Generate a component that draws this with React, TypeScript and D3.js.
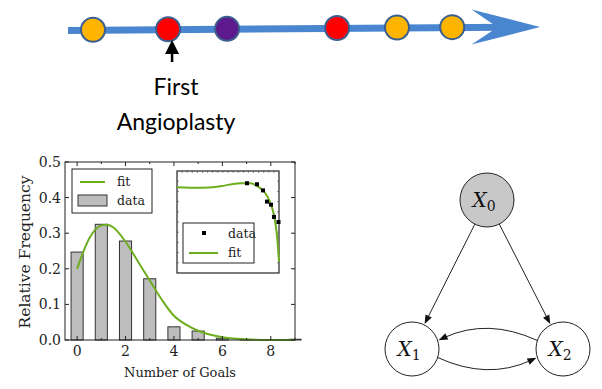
import * as d3 from 'd3'

// timeline events (time units along the arrow) and their colours
const eventTimes = [0.53, 2.12, 3.37, 5.7, 6.97, 8.14]
const eventColors = ['#FFB400', '#FF0000', '#5C1A8C', '#FF0000', '#FFB400', '#FFB400']
const markedEvent = 1
const markLabel = ['First', 'Angioplasty']

// histogram
const goals = [0, 1, 2, 3, 4, 5, 6, 7, 8, 9]
const freq = [0.247, 0.325, 0.278, 0.172, 0.037, 0.025, 0.005, 0.001, 0.001, 0.002]
const fitX = [0, 0.5, 1, 1.25, 1.5, 2, 2.5, 3, 3.5, 4, 4.5, 5, 6, 7, 8, 9]
const fitY = [0.2, 0.285, 0.322, 0.324, 0.316, 0.276, 0.222, 0.167, 0.113, 0.068, 0.043, 0.026, 0.008, 0.002, 0.0, 0.0]
const yTicks = [0, 0.1, 0.2, 0.3, 0.4, 0.5]
const xTicks = [0, 2, 4, 6, 8]

// inset
const insetDataX = [6.86, 7.84, 8.43, 8.82, 9.22, 9.51, 9.95]
const insetDataY = [0.88, 0.87, 0.81, 0.7, 0.67, 0.55, 0.5]
const insetFitX = [0, 2.25, 4.2, 6.2, 7.2, 7.9, 8.6, 9.1, 9.5, 9.8, 10]
const insetFitY = [0.84, 0.835, 0.85, 0.88, 0.88, 0.85, 0.79, 0.7, 0.57, 0.37, 0.11]

// graph
const nodes = [
  { id: 0, x: 487, y: 200, fill: '#C8C8C8' },
  { id: 1, x: 412, y: 349, fill: '#fff' },
  { id: 2, x: 563, y: 349, fill: '#fff' },
]
const edges = [
  { s: 0, t: 1, bend: 0 },
  { s: 0, t: 2, bend: 0 },
  { s: 2, t: 1, bend: 0.13 },
  { s: 1, t: 2, bend: 0.13 },
]

const GREEN = '#6DAE1E'
const SERIF = '"DejaVu Serif", "Liberation Serif", serif'

function Timeline() {
  const tx = d3.scaleLinear().domain([0, 10]).range([68, 540])
  const ty = d3.scaleLinear().domain([0, 10]).range([30.5, 27])
  const end = 10
  const lineEnd = 9.3
  const ex = tx(eventTimes[markedEvent]) + 4
  return (
    <g>
      <line x1={tx(0)} y1={ty(0)} x2={tx(lineEnd)} y2={ty(lineEnd)} stroke="#4A86D0" strokeWidth={7} />
      <path
        d={`M${tx(end)},${ty(end)} L${tx(8.55)},${ty(8.55) - 18} L${tx(9.1)},${ty(9.1)} L${tx(8.55)},${ty(8.55) + 17} Z`}
        fill="#4A86D0"
      />
      {eventTimes.map((t, i) => (
        <circle key={i} cx={tx(t)} cy={ty(t) - 0.5} r={12} fill={eventColors[i]} stroke="#3B5F8E" strokeWidth={2} />
      ))}
      <line x1={ex} y1={62} x2={ex} y2={50} stroke="#000" strokeWidth={2.5} />
      <path d={`M${ex},${40} L${ex - 7},${54} L${ex + 7},${54} Z`} fill="#000" />
      {markLabel.map((s, i) => (
        <text key={i} x={ex + 4} y={95 + i * 35} textAnchor="middle" fontFamily="Lato, 'Open Sans', sans-serif" fontSize={23} fill="#000">
          {s}
        </text>
      ))}
    </g>
  )
}

function Histogram() {
  const x = d3.scaleLinear().domain([-0.5, 9]).range([65, 295])
  const y = d3.scaleLinear().domain([0, 0.5]).range([340, 162])
  const bw = x(0.5) - x(0)
  const fitLine = d3
    .line<number>()
    .x((_, i) => x(fitX[i]))
    .y(d => y(d))
    .curve(d3.curveMonotoneX)

  const ix = d3.scaleLinear().domain([0, 10]).range([177, 279])
  const iy = d3.scaleLinear().domain([0, 1]).range([273, 171])
  const insetLine = d3
    .line<number>()
    .x((_, i) => ix(insetFitX[i]))
    .y(d => iy(d))
    .curve(d3.curveMonotoneX)

  return (
    <g>
      {goals.map((g, i) => (
        <rect key={g} x={x(g) - bw / 2} y={y(freq[i])} width={bw} height={y(0) - y(freq[i])} fill="#BDBDBD" stroke="#333" strokeWidth={1} />
      ))}
      <path d={fitLine(fitY) ?? ''} fill="none" stroke={GREEN} strokeWidth={2} />
      <rect x={65} y={162} width={230} height={178} fill="none" stroke="#222" strokeWidth={1} />
      {yTicks.map(t => (
        <g key={t}>
          <line x1={65} x2={69} y1={y(t)} y2={y(t)} stroke="#222" />
          <line x1={291} x2={295} y1={y(t)} y2={y(t)} stroke="#222" />
          <text x={61} y={y(t) + 5} textAnchor="end" fontFamily={SERIF} fontSize={14} fill="#222">
            {t.toFixed(1)}
          </text>
        </g>
      ))}
      {d3.range(0, 10).map(t => (
        <g key={t}>
          <line x1={x(t)} x2={x(t)} y1={340} y2={t % 2 === 0 ? 336 : 338} stroke="#222" />
          <line x1={x(t)} x2={x(t)} y1={162} y2={t % 2 === 0 ? 166 : 164} stroke="#222" />
        </g>
      ))}
      {xTicks.map(t => (
        <text key={t} x={x(t)} y={356} textAnchor="middle" fontFamily={SERIF} fontSize={14} fill="#222">
          {t}
        </text>
      ))}
      <text x={180} y={377} textAnchor="middle" fontFamily={SERIF} fontSize={13} fill="#222">
        Number of Goals
      </text>
      <text transform="translate(30,252) rotate(-90)" textAnchor="middle" fontFamily={SERIF} fontSize={15.5} fill="#222">
        Relative Frequency
      </text>

      {/* legend */}
      <rect x={72} y={169} width={80} height={44} fill="#fff" stroke="#222" strokeWidth={1} />
      <line x1={80} x2={105} y1={182} y2={182} stroke={GREEN} strokeWidth={2} />
      <text x={117} y={186} fontFamily={SERIF} fontSize={12.5} fill="#222">fit</text>
      <rect x={78} y={195} width={29} height={11} fill="#BDBDBD" stroke="#333" />
      <text x={117} y={205} fontFamily={SERIF} fontSize={12.5} fill="#222">data</text>

      {/* inset */}
      <rect x={177} y={171} width={102} height={102} fill="#fff" stroke="#222" strokeWidth={1.2} />
      {d3.range(0.5, 10, 0.5).map(t => (
        <line key={t} x1={ix(t)} x2={ix(t)} y1={171} y2={173} stroke="#444" strokeWidth={0.6} />
      ))}
      {d3.range(0.1, 1, 0.1).map(t => (
        <g key={t}>
          <line x1={177} x2={179} y1={iy(t)} y2={iy(t)} stroke="#444" strokeWidth={0.6} />
          <line x1={277} x2={279} y1={iy(t)} y2={iy(t)} stroke="#444" strokeWidth={0.6} />
        </g>
      ))}
      <path d={insetLine(insetFitY) ?? ''} fill="none" stroke={GREEN} strokeWidth={2} />
      {insetDataX.map((d, i) => (
        <rect key={i} x={ix(d) - 2} y={iy(insetDataY[i]) - 2} width={4} height={4} fill="#000" />
      ))}
      <rect x={183} y={223} width={71} height={40} fill="#fff" stroke="#222" strokeWidth={1} />
      <rect x={202} y={231} width={4} height={4} fill="#000" />
      <text x={228} y={238} fontFamily={SERIF} fontSize={12.5} fill="#222">data</text>
      <line x1={189} x2={218} y1={253} y2={253} stroke={GREEN} strokeWidth={2} />
      <text x={228} y={257} fontFamily={SERIF} fontSize={12.5} fill="#222">fit</text>
    </g>
  )
}

function Graph() {
  const r = 27
  const head = (x: number, y: number, ang: number) => {
    const l = 9
    const w = 3.5
    const bx = x - l * Math.cos(ang)
    const by = y - l * Math.sin(ang)
    const px = -Math.sin(ang) * w
    const py = Math.cos(ang) * w
    return `M${x},${y}L${bx + px},${by + py}L${bx - px},${by - py}Z`
  }
  return (
    <g>
      {edges.map((e, i) => {
        const a = nodes[e.s]
        const b = nodes[e.t]
        const dx = b.x - a.x
        const dy = b.y - a.y
        const len = Math.hypot(dx, dy)
        if (e.bend === 0) {
          const ux = dx / len
          const uy = dy / len
          const sx = a.x + ux * r
          const sy = a.y + uy * r
          const tx = b.x - ux * (r + 1)
          const ty = b.y - uy * (r + 1)
          const ang = Math.atan2(uy, ux)
          return (
            <g key={i}>
              <path d={`M${sx},${sy}L${tx - ux * 6},${ty - uy * 6}`} stroke="#222" strokeWidth={1} fill="none" />
              <path d={head(tx, ty, ang)} fill="#111" />
            </g>
          )
        }
        // curved edge: bulge to the right of direction a->b
        const off = 0.32
        const rot = (vx: number, vy: number, t: number) => [vx * Math.cos(t) - vy * Math.sin(t), vx * Math.sin(t) + vy * Math.cos(t)]
        const [u1x, u1y] = rot(dx / len, dy / len, off)
        const [u2x, u2y] = rot(-dx / len, -dy / len, -off)
        const sx = a.x + u1x * r
        const sy = a.y + u1y * r
        const tx = b.x + u2x * (r + 1)
        const ty = b.y + u2y * (r + 1)
        const mx = (a.x + b.x) / 2
        const my = (a.y + b.y) / 2
        const nx = -dy / len
        const ny = dx / len
        const cx = mx + nx * len * e.bend * 1.6
        const cy = my + ny * len * e.bend * 1.6
        const ang = Math.atan2(ty - cy, tx - cx)
        const ex = tx - Math.cos(ang) * 6
        const ey = ty - Math.sin(ang) * 6
        return (
          <g key={i}>
            <path d={`M${sx},${sy}Q${cx},${cy} ${ex},${ey}`} stroke="#222" strokeWidth={1} fill="none" />
            <path d={head(tx, ty, ang)} fill="#111" />
          </g>
        )
      })}
      {nodes.map(n => (
        <g key={n.id}>
          <circle cx={n.x} cy={n.y} r={r} fill={n.fill} stroke="#222" strokeWidth={1} />
          <text x={n.x - 3} y={n.y + 7} textAnchor="middle" fontFamily={SERIF} fontStyle="italic" fontSize={20} fill="#111">
            X
            <tspan fontStyle="normal" fontSize={14} dy={4}>{n.id}</tspan>
          </text>
        </g>
      ))}
    </g>
  )
}

export default function App() {
  return (
    <div style={{ position: 'absolute', left: 0, top: 0 }}>
      <svg width={602} height={389} style={{ display: 'block', background: '#fff' }}>
        <Timeline />
        <Histogram />
        <Graph />
      </svg>
    </div>
  )
}
